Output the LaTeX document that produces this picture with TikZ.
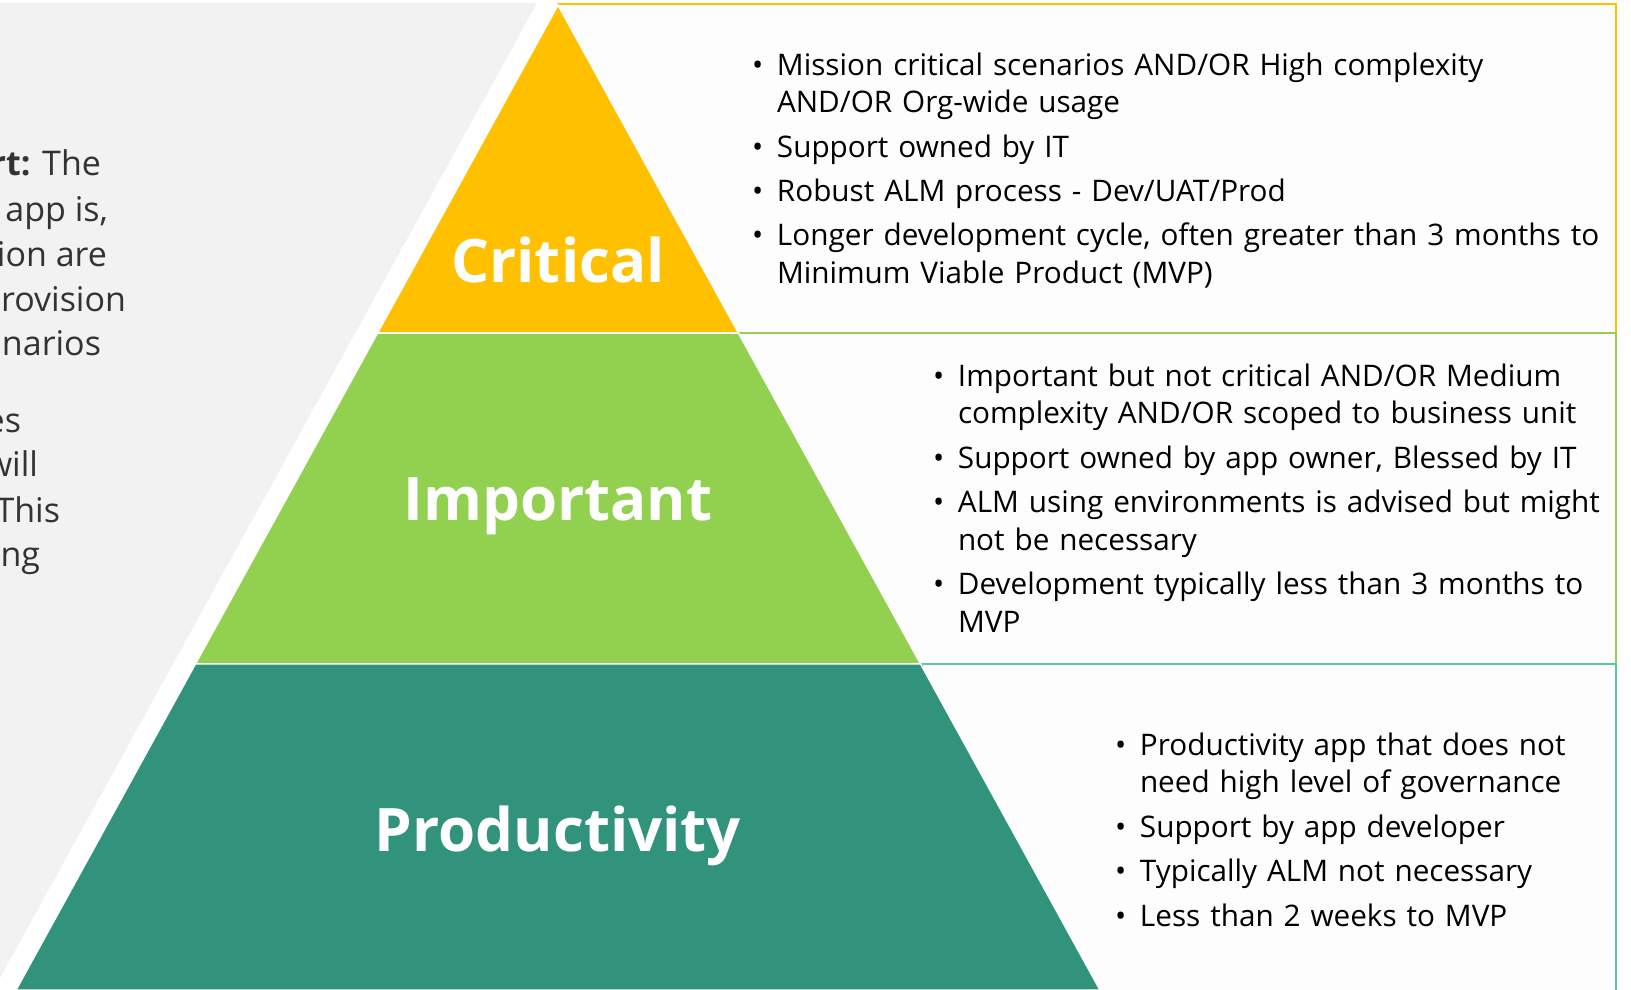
\documentclass[tikz,border=0pt]{standalone}
\usepackage{fontspec}
\setmainfont{Open Sans}
\usetikzlibrary{positioning,calc}

\definecolor{critgold}{HTML}{FFC000}
\definecolor{implime}{HTML}{92D050}
\definecolor{prodteal}{HTML}{31937C}
\definecolor{prodline}{HTML}{55C8A9}
\definecolor{panelgray}{HTML}{F2F2F2}
\definecolor{boxfill}{HTML}{FDFDFD}
\definecolor{notegray}{HTML}{333333}

\newcommand{\bl}{\makebox[25pt][l]{\textbullet}}
\newcommand{\hang}{\hspace*{25pt}}

\begin{document}
\begin{tikzpicture}[
        x=1pt, y=-1pt,
        every node/.style={inner sep=0pt, outer sep=0pt},
        layer/.style={draw=white, line width=1.5pt},
        tierbox/.style={fill=boxfill, line width=2.5pt, anchor=north west},
        tier/.style={text=white, font=\fontsize{60}{72}\selectfont\bfseries, anchor=base},
        bullets/.style={text width=1000pt, align=left, anchor=base west, font=\fontsize{29.7}{37.5}\selectfont, text=black},
        note/.style={anchor=base east, font=\fontsize{34}{45}\selectfont, text=notegray}
    ]
        \useasboundingbox (0,0) rectangle (1631,990);
        \fill[white] (0,0) rectangle (1631,990);

        % Left panel
        \fill[panelgray] (0,3) -- (537,3) -- (0,978) -- cycle;
        \node[note] (note1) at (101,175) {\textbf{rt:} The};
        \node[note] (note2) at (108,221) {app is,};
        \node[note] (note3) at (107,266) {ion are};
        \node[note] (note4) at (126,311) {rovision};
        \node[note] (note5) at (101,355) {narios};
        \node[note] (note6) at (21,432) {es};
        \node[note] (note7) at (38,476) {will};
        \node[note] (note8) at (60,522) {This};
        \node[note] (note9) at (40,566) {ng};

        % Tier boxes
        \node[tierbox, draw=critgold, minimum width=1058pt, minimum height=329pt] (critbox) at (558,4) {};
        \node[tierbox, draw=implime, minimum width=877pt, minimum height=331pt] (impbox) at (739,333) {};
        \node[tierbox, draw=prodline, minimum width=694pt, minimum height=340pt] (prodbox) at (922,664) {};

        % Pyramid
        \coordinate (apex) at (558,5);
        \coordinate (bl) at (16,990);
        \coordinate (br) at (1100,990);
        \coordinate (l1) at ($(apex)!0.333!(bl)$);
        \coordinate (r1) at ($(apex)!0.333!(br)$);
        \coordinate (l2) at ($(apex)!0.669!(bl)$);
        \coordinate (r2) at ($(apex)!0.669!(br)$);
        \filldraw[layer, fill=critgold] (apex) -- (r1) -- (l1) -- cycle;
        \filldraw[layer, fill=implime] (l1) -- (r1) -- (r2) -- (l2) -- cycle;
        \filldraw[layer, fill=prodteal] (l2) -- (r2) -- (br) -- (bl) -- cycle;

        \node[tier] (crit) at (558,282) {Critical};
        \node[tier] (imp) at (558,520) {Important};
        \node[tier] (prod) at (558,851) {Productivity};

        % Bullet lists
        \node[bullets] (critlist) at (752,75) {\bl Mission critical scenarios AND/OR High complexity\\
            \hang AND/OR Org-wide usage\\[7pt]
            \bl Support owned by IT\\[7pt]
            \bl Robust ALM process - Dev/UAT/Prod\\[7pt]
            \bl Longer development cycle, often greater than 3 months to\\
            \hang Minimum Viable Product (MVP)};
        \node[bullets] (implist) at (933,386) {\bl Important but not critical AND/OR Medium\\
            \hang complexity AND/OR scoped to business unit\\[7pt]
            \bl Support owned by app owner, Blessed by IT\\[7pt]
            \bl ALM using environments is advised but might\\
            \hang not be necessary\\[7pt]
            \bl Development typically less than 3 months to\\
            \hang MVP};
        \node[bullets] (prodlist) at (1115,755) {\bl Productivity app that does not\\
            \hang need high level of governance\\[7pt]
            \bl Support by app developer\\[7pt]
            \bl Typically ALM not necessary\\[7pt]
            \bl Less than 2 weeks to MVP};
    \end{tikzpicture}
\end{document}
